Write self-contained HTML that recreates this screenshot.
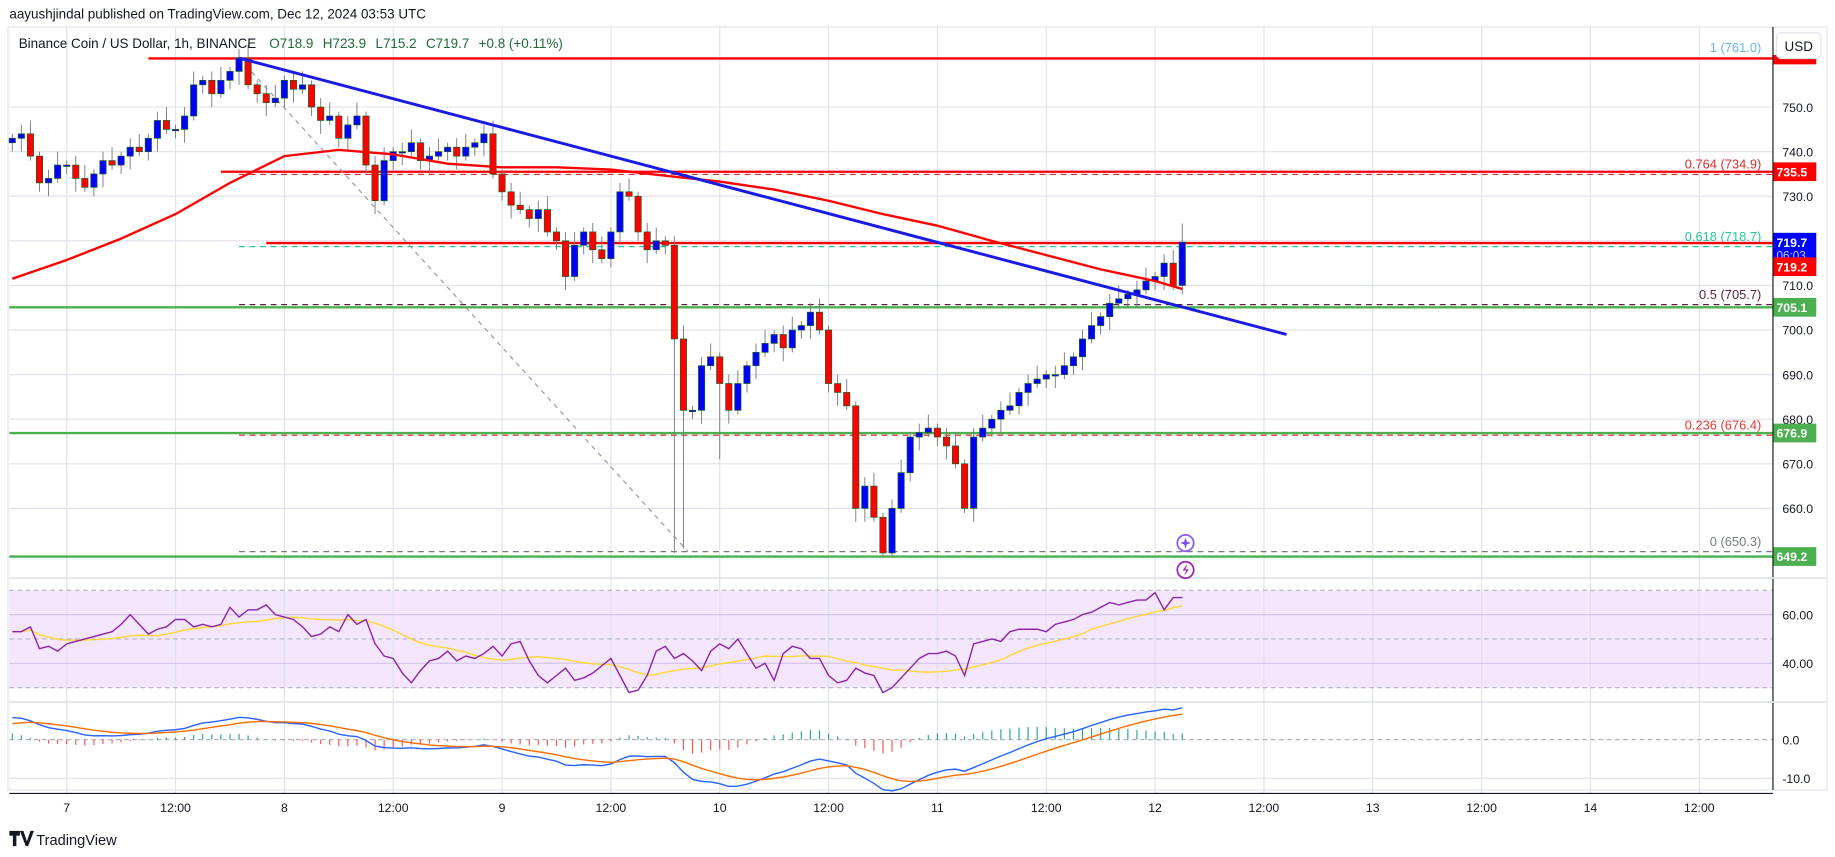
<!DOCTYPE html>
<html><head><meta charset="utf-8"><style>
html,body{margin:0;padding:0;background:#fff;width:1835px;height:857px;overflow:hidden}
svg{display:block;font-family:"Liberation Sans",sans-serif}
</style></head><body>
<svg id="chart" width="1835" height="857" viewBox="0 0 1568 732.3" preserveAspectRatio="none" xmlns="http://www.w3.org/2000/svg">
<text x="8" y="16" font-size="11.5" fill="#131722">aayushjindal published on TradingView.com, Dec 12, 2024 03:53 UTC</text>
<rect x="7" y="23" width="1554" height="652" fill="#fff" stroke="#eef0f5" stroke-width="2"/>
<rect x="8" y="505" width="1507" height="83" fill="#f3e6fd"/>
<g id="grid"></g>
<g id="levels"></g>
<g id="candles"></g>
<g id="overlays"></g>
<g id="rsi"></g>
<g id="macd"></g>
<g id="axis"></g>
<line x1="1515" y1="23" x2="1515" y2="675" stroke="#131722" stroke-width="1"/>
<line x1="8" y1="678" x2="1515" y2="678" stroke="#131722" stroke-width="1"/>
<line x1="8" y1="494" x2="1560" y2="494" stroke="#e0e3eb" stroke-width="1.5"/>
<line x1="8" y1="600" x2="1560" y2="600" stroke="#e0e3eb" stroke-width="1.5"/>
<text x="16" y="41" font-size="11.5" fill="#131722">Binance Coin / US Dollar, 1h, BINANCE <tspan fill="#1e6b3a" dx="8">O718.9</tspan><tspan fill="#1e6b3a" dx="8">H723.9</tspan><tspan fill="#1e6b3a" dx="8">L715.2</tspan><tspan fill="#1e6b3a" dx="8">C719.7</tspan><tspan fill="#1e6b3a" dx="8">+0.8 (+0.11%)</tspan></text>
<rect x="1518" y="28" width="38" height="22" rx="4" fill="#fff" stroke="#e0e3eb"/>
<text x="1537" y="43.5" font-size="11.5" text-anchor="middle" fill="#131722">USD</text>
<g>
<path d="M8 710h9v4h-3v9h-3v-9h-3z M17 710h3l3 9l3-9h3l-5 13h-2z" fill="#131722"/>
<text x="31" y="722" font-size="12.5" fill="#131722">TradingView</text>
</g>
<g><circle cx="1013" cy="464" r="7" fill="#fff" stroke="#8a5cf6" stroke-width="1.5"/><path d="M1013 459.5l1.2 3.3 3.3 1.2-3.3 1.2-1.2 3.3-1.2-3.3-3.3-1.2 3.3-1.2z" fill="#7c4dff"/></g>
<g><circle cx="1013" cy="487" r="7" fill="#fff" stroke="#9c27b0" stroke-width="1.5"/><path d="M1014.5 482l-4 5.5h3l-1.5 4.5 4-5.5h-3z" fill="#9c27b0"/></g>
</svg>
<script>
const closes=[743,744,739,733,734,737,737,734,732,735,
738,737,739,741,740,743,747,745,745,748,
755,756,753,756,758,761,755,753,751,752,
756,754,755,750,747,748,743,746,748,737,
729,738,740,740,742,738,739,740,741,739,
741,742,744,735,731,728,727,725,727,722,
720,712,719,722,718,716,722,731,730,722,
718,720,719,698,682,682,692,694,688,682,
688,692,695,697,699,696,700,701,704,700,
688,686,683,660,665,658,650,660,668,676,
677,678,676,674,670,660,676,678,680,682,
683,686,688,689,690,690,692,694,698,701,
703,706,707,708,709,711,712,715,710,719.7];
const firstOpen=742;
const startHour=-6;
const lowOverrides={73:650,74:651,78:671,93:657,96:649,97:649,105:659};
const highOverrides={129:723.9};
const maHours=[-6,0,6,12,18,24,30,36,42,48,54,60,66,72,78,84,90,96,102,108,114,120,123];
const maValues=[711.5,715.7,720.5,726,733,739,740.4,739.4,737.3,736.5,736.5,736,734.6,733.3,731.5,729,726,723.4,720,716.8,713.6,711,709.2];
const rsiValues=[53,53,55,46,47,45,48,49,50,51,52,53,56,60,56,52,54,55,58,58,
55,56,55,56,63,59,62,62,64,60,59,58,55,51,52,55,53,60,56,58,
48,43,42,36,32,37,41,42,45,41,43,42,44,47,43,48,49,41,35,32,
35,38,33,34,36,39,42,35,28,29,35,45,47,42,44,41,37,45,48,46,
50,44,38,40,33,44,47,46,42,42,35,32,33,38,36,35,28,30,34,38,
42,44,44,45,43,35,48,49,50,49,53,54,54,54,53,56,57,58,60,61,
63,65,64,65,66,66,69,62,67,67];
const priceTicks=[750,740,730,720,710,700,690,680,670,660];
const priceTickLabels=["750.0","740.0","730.0","","710.0","700.0","690.0","680.0","670.0","660.0"];
const timeTickHours=[0,12,24,36,48,60,72,84,96,108,120,132,144,156,168,180];
const timeTickLabels=["7","12:00","8","12:00","9","12:00","10","12:00","11","12:00","12","12:00","13","12:00","14","12:00"];
const fibLevels=[761.0,734.9,718.7,705.7,676.4,650.3];
const fibLabels=["1 (761.0)","0.764 (734.9)","0.618 (718.7)","0.5 (705.7)","0.236 (676.4)","0 (650.3)"];
const fibColors=["#64b5f6","#d32f2f","#26c6a0","#5d1f3a","#e53935","#787b86"];
const redLevels=[760.9,735.5,719.5];
const redLevelStartHours=[9,17,22];
const greenLevels=[705.1,676.9,649.2];

const NS="http://www.w3.org/2000/svg";
const X0=57,PXH=7.75,RIGHT=1515;
function xH(h){return X0+h*PXH;}
function yP(p){return 282-(p-700)*3.81;}
function yR(v){return 546-(v-50)*2.08;}
function yM(v){return 632-v*3.3;}
function mk(tag,attrs,parent){const e=document.createElementNS(NS,tag);for(const k in attrs)e.setAttribute(k,attrs[k]);parent.appendChild(e);return e;}
const grid=document.getElementById('grid'),levels=document.getElementById('levels'),cg=document.getElementById('candles'),ov=document.getElementById('overlays'),rg=document.getElementById('rsi'),mg=document.getElementById('macd'),ax=document.getElementById('axis');

priceTicks.forEach((p,i)=>{const l=mk('line',{x1:8,x2:RIGHT,y1:yP(p),y2:yP(p),stroke:'#e0e3eb','stroke-width':1},grid);


if(priceTickLabels[i]){const t=mk('text',{x:1523,y:yP(p)+4,'font-size':10.5,fill:'#131722'},ax);t.textContent=priceTickLabels[i];

}});
timeTickHours.forEach((h,i)=>{const x=xH(h);const l=mk('line',{x1:x,x2:x,y1:23,y2:678,stroke:'#e0e3eb','stroke-width':1},grid);


const t=mk('text',{x:x,y:694,'font-size':10.5,fill:'#131722','text-anchor':'middle'},ax);t.textContent=timeTickLabels[i];

});
[[60,'60.00'],[40,'40.00']].forEach(a=>{const t=mk('text',{x:1523,y:yR(a[0])+4,'font-size':10.5,fill:'#131722'},ax);t.textContent=a[1];

});
[60,40].forEach(v=>{const l=mk('line',{x1:8,x2:RIGHT,y1:yR(v),y2:yR(v),stroke:'#d1c4e9','stroke-width':1},grid);

});
[70,50,30].forEach(v=>{const l=mk('line',{x1:8,x2:RIGHT,y1:yR(v),y2:yR(v),stroke:'#b2b5be','stroke-width':1,'stroke-dasharray':'4,3'},grid);

});
[[0,'0.0'],[-10,'-10.0']].forEach(a=>{const t=mk('text',{x:1523,y:yM(a[0])+4,'font-size':10.5,fill:'#131722'},ax);t.textContent=a[1];

});
{const l=mk('line',{x1:8,x2:RIGHT,y1:yM(0),y2:yM(0),stroke:'#b2b5be','stroke-width':1,'stroke-dasharray':'4,3'},grid);

}
{const l=mk('line',{x1:8,x2:RIGHT,y1:yM(-10),y2:yM(-10),stroke:'#e0e3eb','stroke-width':1},grid);

}

const fibStart=xH(19);
fibLevels.forEach((p,i)=>{const l=mk('line',{x1:fibStart,x2:RIGHT,y1:yP(p),y2:yP(p),stroke:fibColors[i],'stroke-width':1,'stroke-dasharray':'5,4'},levels);


const t=mk('text',{x:1505,y:yP(p)-5,'font-size':11,fill:fibColors[i],'text-anchor':'end'},levels);t.textContent=fibLabels[i];

});
greenLevels.forEach(p=>{const l=mk('line',{x1:8,x2:RIGHT,y1:yP(p),y2:yP(p),stroke:'#4caf50','stroke-width':2},levels);

});
redLevels.forEach((p,i)=>{const l=mk('line',{x1:xH(redLevelStartHours[i]),x2:RIGHT,y1:yP(p),y2:yP(p),stroke:'#ff0000','stroke-width':2},levels);

});
{const l=mk('line',{x1:xH(19),y1:yP(761),x2:xH(68.5),y2:yP(650.3),stroke:'#9598a1','stroke-width':1,'stroke-dasharray':'4,4'},levels);

}

let prev=firstOpen;
closes.forEach((c,i)=>{const h=startHour+i;const o=prev;prev=c;const x=xH(h);
const hi=(highOverrides[i]!==undefined)?highOverrides[i]:Math.max(o,c)+1+(i%3);
const lo=(lowOverrides[i]!==undefined)?lowOverrides[i]:Math.min(o,c)-1-((i+1)%3);
const up=c>=o;
const w=mk('line',{x1:x,x2:x,y1:yP(hi),y2:yP(lo),stroke:'#787b86','stroke-width':0.8},cg);


const top=yP(Math.max(o,c)),bh=Math.max(1.2,yP(Math.min(o,c))-top);
const b=mk('rect',{x:x-2.7,y:top,width:5.4,height:bh,fill:up?'#0000ff':'#ff0000',stroke:'#1b5e20','stroke-width':0.6},cg);

});

{const pts=maHours.map((h,i)=>xH(h)+','+yP(maValues[i])).join(' ');
const l=mk('polyline',{points:pts,fill:'none',stroke:'#f00','stroke-width':2,'stroke-linejoin':'round'},ov);

}
{const l=mk('line',{x1:xH(19),y1:yP(761),x2:xH(134.5),y2:yP(699),stroke:'#1a1ae6','stroke-width':2.5},ov);

}

function tag(p,txt,col,name,h){const y=yP(p);const r=mk('rect',{x:1515,y:y-8,width:37,height:h||16,fill:col},ax);


const t=mk('text',{x:1518,y:y+4,'font-size':10.5,fill:'#fff','font-weight':'bold'},ax);t.textContent=txt;

return y;}
tag(735.5,'735.5','#ff0000','tag-735');
{const y=tag(719.7,'719.7','#0000ff','tag-last-price',26);const t=mk('text',{x:1518,y:y+15,'font-size':10,fill:'#c5c8ff'},ax);t.textContent='06:03';

}
tag(714.2,'719.2','#ff0000','tag-ma');
tag(705.1,'705.1','#4caf50','tag-705');
tag(676.9,'676.9','#4caf50','tag-677');
tag(649.2,'649.2','#4caf50','tag-649');
{const r=mk('rect',{x:1515,y:yP(760.9)-3,width:37,height:8,fill:'#ff0000'},ax);

}

{const pts=rsiValues.map((v,i)=>xH(startHour+i)+','+yR(v)).join(' ');
const sig=[];rsiValues.forEach((v,i)=>{const s=rsiValues.slice(Math.max(0,i-13),i+1);sig.push(s.reduce((a,b)=>a+b,0)/s.length);});
const sp=sig.map((v,i)=>xH(startHour+i)+','+yR(v)).join(' ');
const a=mk('polyline',{points:sp,fill:'none',stroke:'#fdd835','stroke-width':1.2},rg);


const b=mk('polyline',{points:pts,fill:'none',stroke:'#8e24aa','stroke-width':1.2},rg);

}

{function ema(arr,n,seed){const k=2/(n+1);const out=[];let e=seed;arr.forEach(v=>{e=v*k+e*(1-k);out.push(e);});return out;}
const e12=ema(closes,12,closes[0]-2),e26=ema(closes,26,closes[0]-8);
const macd=e12.map((v,i)=>v-e26[i]);const sig=ema(macd,9,macd[0]-2);
macd.forEach((m,i)=>{const hv=m-sig[i];const x=xH(startHour+i);const hb=mk('line',{x1:x,x2:x,y1:yM(0),y2:yM(hv),stroke:hv>=0?'#26a69a':'#ff5252','stroke-width':1},mg);

});
const l1=mk('polyline',{points:macd.map((v,i)=>xH(startHour+i)+','+yM(v)).join(' '),fill:'none',stroke:'#2962ff','stroke-width':1.2},mg);


const l2=mk('polyline',{points:sig.map((v,i)=>xH(startHour+i)+','+yM(v)).join(' '),fill:'none',stroke:'#ff6d00','stroke-width':1.2},mg);

}
</script>
</body></html>
